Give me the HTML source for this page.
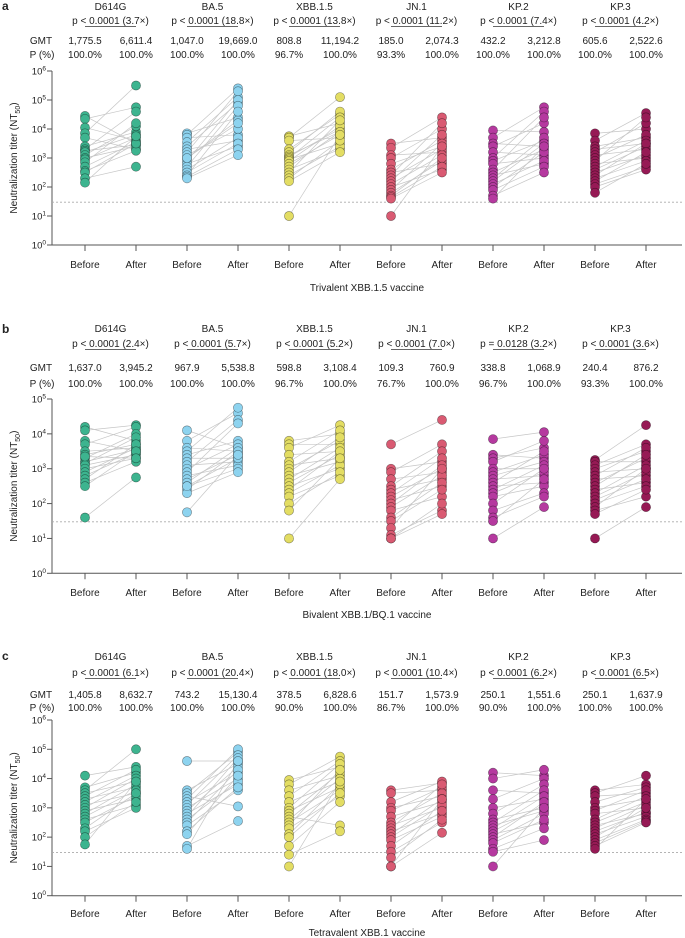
<!DOCTYPE html>
<html><head><meta charset="utf-8">
<style>
html,body{margin:0;padding:0;background:#fff;}
svg{display:block;font-family:"Liberation Sans",Arial,sans-serif;}
text{fill:#222;}
</style></head>
<body>
<svg id="chart" width="685" height="938" viewBox="0 0 685 938" xmlns="http://www.w3.org/2000/svg"></svg>
<script>
// ---- data ----
const variants = ["D614G","BA.5","XBB.1.5","JN.1","KP.2","KP.3"];
const colors = ["#3db48f","#8dd3ef","#e3dd63","#d95a72","#b5399f","#961a55"];
const panelLetters = ["a","b","c"];
const panelTitles = ["Trivalent XBB.1.5 vaccine","Bivalent XBB.1/BQ.1 vaccine","Tetravalent XBB.1 vaccine"];
const pTextA = ["p < 0.0001 (3.7×)","p < 0.0001 (18.8×)","p < 0.0001 (13.8×)","p < 0.0001 (11.2×)","p < 0.0001 (7.4×)","p < 0.0001 (4.2×)"];
const pTextB = ["p < 0.0001 (2.4×)","p < 0.0001 (5.7×)","p < 0.0001 (5.2×)","p < 0.0001 (7.0×)","p = 0.0128 (3.2×)","p < 0.0001 (3.6×)"];
const pTextC = ["p < 0.0001 (6.1×)","p < 0.0001 (20.4×)","p < 0.0001 (18.0×)","p < 0.0001 (10.4×)","p < 0.0001 (6.2×)","p < 0.0001 (6.5×)"];
const gmtA = ["1,775.5","6,611.4","1,047.0","19,669.0","808.8","11,194.2","185.0","2,074.3","432.2","3,212.8","605.6","2,522.6"];
const gmtB = ["1,637.0","3,945.2","967.9","5,538.8","598.8","3,108.4","109.3","760.9","338.8","1,068.9","240.4","876.2"];
const gmtC = ["1,405.8","8,632.7","743.2","15,130.4","378.5","6,828.6","151.7","1,573.9","250.1","1,551.6","250.1","1,637.9"];
const pctA = ["100.0%","100.0%","100.0%","100.0%","96.7%","100.0%","93.3%","100.0%","100.0%","100.0%","100.0%","100.0%"];
const pctB = ["100.0%","100.0%","100.0%","100.0%","96.7%","100.0%","76.7%","100.0%","96.7%","100.0%","93.3%","100.0%"];
const pctC = ["100.0%","100.0%","100.0%","100.0%","90.0%","100.0%","86.7%","100.0%","90.0%","100.0%","100.0%","100.0%"];
const lod = 30;
// log10 titers, before/after paired by index
const beforeA = [
[4.45,4.35,4.05,3.85,3.7,3.4,3.3,3.25,3.2,3.1,3.0,2.95,2.85,2.7,2.55,2.5,2.3,2.15],
[3.85,3.8,3.7,3.55,3.4,3.3,3.2,3.0,3.1,2.9,2.8,2.7,2.6,2.5,2.4,2.35,2.3,3.0],
[3.75,3.7,3.6,3.3,3.2,3.1,3.05,3.0,2.95,2.9,2.8,2.7,2.6,2.5,2.4,2.3,2.2,1.0],
[3.5,3.35,3.1,3.0,2.8,2.6,2.5,2.4,2.3,2.2,2.1,2.0,1.9,1.8,1.7,1.65,1.6,1.0],
[3.95,3.7,3.5,3.4,3.2,3.0,2.9,2.8,2.6,2.5,2.4,2.3,2.2,2.1,2.0,1.9,1.7,1.6],
[3.85,3.6,3.4,3.3,3.2,3.1,3.0,2.9,2.8,2.7,2.6,2.5,2.4,2.3,2.2,2.1,2.0,1.8]];
const afterA = [
[3.5,4.75,3.6,5.5,3.3,3.9,4.6,3.45,3.8,4.1,3.4,3.7,4.2,3.55,3.25,3.5,2.7,3.75],
[4.4,5.4,3.8,5.1,4.9,3.6,5.3,4.3,4.0,5.0,3.4,4.8,3.7,3.5,4.6,3.3,3.1,4.2],
[4.2,5.1,3.7,4.5,4.6,3.9,4.0,4.4,3.5,4.1,3.8,3.9,3.3,4.3,3.4,3.6,3.2,3.8],
[3.7,4.4,3.2,4.0,3.4,3.6,2.8,4.2,3.3,3.8,3.1,2.6,3.5,2.9,3.0,2.7,2.5,3.4],
[3.9,4.75,3.4,4.2,3.1,4.6,3.6,3.0,4.4,3.3,2.8,3.7,3.5,2.9,3.2,2.7,2.5,3.4],
[4.0,4.55,3.7,3.5,4.2,3.3,3.8,4.4,3.0,3.6,3.4,3.1,3.5,2.9,3.2,2.7,2.6,2.8]];
const beforeB = [
[4.2,4.1,3.8,3.7,3.5,3.4,3.3,3.2,3.15,3.1,3.0,2.9,2.8,2.7,2.6,2.5,3.35,1.6],
[4.1,3.8,3.6,3.5,3.4,3.3,3.2,3.1,3.0,2.9,2.8,2.7,2.6,2.5,2.4,2.3,2.5,1.75],
[3.8,3.7,3.6,3.4,3.2,3.1,3.0,2.9,2.8,2.7,2.6,2.5,2.4,2.3,2.2,2.0,1.8,1.0],
[3.7,3.0,2.9,2.7,2.5,2.4,2.3,2.2,2.1,2.0,1.9,1.8,1.6,1.5,1.3,1.1,1.0,1.0],
[3.85,3.4,3.3,3.2,3.0,2.9,2.8,2.7,2.6,2.5,2.4,2.3,2.2,2.0,1.8,1.6,1.5,1.0],
[3.25,3.2,3.1,3.0,2.9,2.8,2.7,2.6,2.5,2.4,2.3,2.2,2.1,2.0,1.9,1.8,1.7,1.0]];
const afterB = [
[3.8,4.25,3.5,4.2,3.6,3.7,4.0,3.55,3.9,3.4,3.3,3.6,3.45,3.7,3.2,3.5,3.3,2.75],
[3.6,4.6,3.5,4.75,3.8,3.3,4.4,3.2,3.7,4.3,3.1,3.4,3.6,3.0,3.5,2.9,3.3,3.4],
[4.0,3.7,4.25,3.5,4.1,3.3,3.8,3.9,3.2,3.6,3.4,3.0,3.5,3.1,2.8,2.9,3.3,2.7],
[4.4,3.2,3.7,2.9,3.5,2.7,3.3,3.0,2.5,3.1,2.8,2.2,2.6,2.4,3.0,1.8,2.0,1.7],
[4.05,3.3,3.6,3.8,3.0,3.4,3.2,2.8,3.5,2.6,3.1,2.9,2.5,3.0,2.3,2.2,2.7,1.9],
[4.25,3.2,3.7,3.5,3.0,3.6,2.8,3.3,3.4,2.6,3.1,2.9,2.7,2.5,3.0,2.2,2.4,1.9]];
const beforeC = [
[4.1,3.7,3.6,3.5,3.4,3.3,3.2,3.1,3.0,2.9,2.8,2.7,2.6,2.5,2.3,2.2,2.0,1.75],
[4.6,3.6,3.5,3.4,3.3,3.2,3.1,3.0,2.9,2.8,2.7,2.6,2.5,2.4,2.2,2.1,1.7,1.6],
[3.95,3.8,3.6,3.4,3.2,3.0,2.9,2.8,2.7,2.6,2.5,2.4,2.3,2.1,2.0,1.7,1.4,1.0],
[3.6,3.5,3.2,3.0,2.9,2.7,2.5,2.4,2.3,2.2,2.1,2.0,1.9,1.7,1.5,1.3,1.0,1.0],
[4.2,4.0,3.6,3.3,3.0,2.8,2.6,2.5,2.4,2.3,2.2,2.1,2.0,1.9,1.8,1.6,1.5,1.0],
[3.6,3.5,3.4,3.2,3.0,2.9,2.8,2.6,2.5,2.4,2.3,2.2,2.1,2.0,1.9,1.8,1.7,1.6]];
const afterC = [
[4.4,4.2,5.0,3.9,4.3,3.7,4.1,3.5,4.0,3.3,3.8,3.6,3.1,3.4,3.5,3.0,3.2,3.9],
[4.6,4.5,4.9,3.05,5.0,4.2,4.8,4.0,4.4,3.8,4.7,3.9,4.3,3.6,3.7,4.1,2.55,4.6],
[4.4,4.75,4.1,4.6,3.9,4.5,3.7,4.2,2.4,4.0,3.6,4.3,3.4,3.8,3.5,3.2,2.2,3.9],
[3.85,3.6,3.9,3.4,3.7,3.2,3.5,3.0,3.8,2.8,3.3,3.1,2.7,2.9,2.5,2.6,2.15,3.3],
[4.1,4.3,3.5,4.0,3.3,3.8,3.0,3.6,2.9,3.4,3.1,2.5,3.2,2.8,2.6,2.3,1.9,3.0],
[3.8,4.1,3.5,3.7,3.3,3.6,3.0,3.4,3.2,2.8,3.1,2.85,2.7,3.0,2.6,2.55,2.5,3.3]];

// ---- layout ----
const panels = [
 {top:6, yTop:71, yBot:245, maxExp:6, nameY:10, pY:24, gmtY:44, pctY:58, lblY:268, titleY:291, p:pTextA, g:gmtA, c:pctA, b:beforeA, a:afterA},
 {top:329, yTop:399, yBot:573.3, maxExp:5, nameY:332, pY:347, gmtY:371, pctY:387, lblY:596, titleY:618, p:pTextB, g:gmtB, c:pctB, b:beforeB, a:afterB},
 {top:656, yTop:720, yBot:895.7, maxExp:6, nameY:660, pY:676, gmtY:698, pctY:711, lblY:917, titleY:936, p:pTextC, g:gmtC, c:pctC, b:beforeC, a:afterC}
];
const NS = "http://www.w3.org/2000/svg";
const svg = document.getElementById('chart');
function mk(tag, attrs, parent, txt){
  const e = document.createElementNS(NS, tag);
  for (const k in attrs) e.setAttribute(k, attrs[k]);
  if (txt !== undefined) e.textContent = txt;
  (parent||svg).appendChild(e);
  return e;
}
const axisX0 = 52, axisX1 = 682;
function xBefore(i){ return 85 + 102*i; }
function xAfter(i){ return 136 + 102*i; }

panels.forEach((P, pi) => {
  const g = mk('g', {});
  
  
  const yScale = v => P.yBot - (v / P.maxExp) * (P.yBot - P.yTop);

  const letter = mk('text', {x:2, y:P.top+4, 'font-size':12, 'font-weight':'bold'}, g, panelLetters[pi]);
  
  

  const gl = mk('text', {x:41, y:P.gmtY, 'font-size':10, 'text-anchor':'middle'}, g, 'GMT');
  
  
  const pl = mk('text', {x:42, y:P.pctY, 'font-size':10, 'text-anchor':'middle'}, g, 'P (%)');
  
  

  const yAx = mk('line', {x1:axisX0, x2:axisX0, y1:P.yTop, y2:P.yBot, stroke:'#555', 'stroke-width':1}, g);
  
  
  const xAx = mk('line', {x1:axisX0, x2:axisX1, y1:P.yBot, y2:P.yBot, stroke:'#555', 'stroke-width':1}, g);
  
  
  for (let e = 0; e <= P.maxExp; e++) {
    const y = yScale(e);
    mk('line', {x1:axisX0-5, x2:axisX0, y1:y, y2:y, stroke:'#555', 'stroke-width':1}, g);
    const t = mk('text', {x:46, y:y+3.5, 'font-size':9.5, 'text-anchor':'end'}, g);
    
    
    mk('tspan', {}, t, '10');
    mk('tspan', {dy:-4, 'font-size':6.5}, t, String(e));
  }
  const yl = mk('text', {x:0, y:0, 'font-size':10, 'text-anchor':'middle', transform:`translate(17,${(P.yTop+P.yBot)/2}) rotate(-90)`}, g);
  
  
  mk('tspan', {}, yl, 'Neutralization titer (NT');
  mk('tspan', {dy:3, 'font-size':7}, yl, '50');
  mk('tspan', {dy:-3}, yl, ')');

  const ly = yScale(Math.log10(lod));
  const lodL = mk('line', {x1:axisX0, x2:axisX1, y1:ly, y2:ly, stroke:'#aaa', 'stroke-width':0.9, 'stroke-dasharray':'2,2'}, g);
  
  

  variants.forEach((v, i) => {
    const xb = xBefore(i), xa = xAfter(i), xm = (xb+xa)/2;
    const vg = mk('g', {}, g);
    
    
    mk('text', {x:xm, y:P.nameY, 'font-size':10, 'text-anchor':'middle'}, vg, v);
    mk('text', {x:xm, y:P.pY, 'font-size':10, 'text-anchor':'middle'}, vg, P.p[i]);
    mk('line', {x1:xb, x2:xa, y1:P.pY+2.5, y2:P.pY+2.5, stroke:'#333', 'stroke-width':0.8}, vg);
    mk('text', {x:xb, y:P.gmtY, 'font-size':10, 'text-anchor':'middle'}, vg, P.g[2*i]);
    mk('text', {x:xa, y:P.gmtY, 'font-size':10, 'text-anchor':'middle'}, vg, P.g[2*i+1]);
    mk('text', {x:xb, y:P.pctY, 'font-size':10, 'text-anchor':'middle'}, vg, P.c[2*i]);
    mk('text', {x:xa, y:P.pctY, 'font-size':10, 'text-anchor':'middle'}, vg, P.c[2*i+1]);
    [xb, xa].forEach(x => mk('line', {x1:x, x2:x, y1:P.yBot, y2:P.yBot+6, stroke:'#555', 'stroke-width':1}, vg));
    mk('text', {x:xb, y:P.lblY, 'font-size':10, 'text-anchor':'middle'}, vg, 'Before');
    mk('text', {x:xa, y:P.lblY, 'font-size':10, 'text-anchor':'middle'}, vg, 'After');
    const bv = P.b[i], av = P.a[i];
    bv.forEach((val, k) => {
      const ln = mk('line', {x1:xb, y1:yScale(val), x2:xa, y2:yScale(av[k]), stroke:'#c6c6c6', 'stroke-width':0.7}, vg);
      
      
    });
    bv.forEach(val => {
      const c = mk('circle', {cx:xb, cy:yScale(val), r:4.6, fill:colors[i], stroke:'rgba(0,0,0,0.45)', 'stroke-width':0.6}, vg);
      
      
    });
    av.forEach(val => {
      const c = mk('circle', {cx:xa, cy:yScale(val), r:4.6, fill:colors[i], stroke:'rgba(0,0,0,0.45)', 'stroke-width':0.6}, vg);
      
      
    });
  });

  const tt = mk('text', {x:367, y:P.titleY, 'font-size':10, 'text-anchor':'middle'}, g, panelTitles[pi]);
  
  
});
</script>
</body></html>
